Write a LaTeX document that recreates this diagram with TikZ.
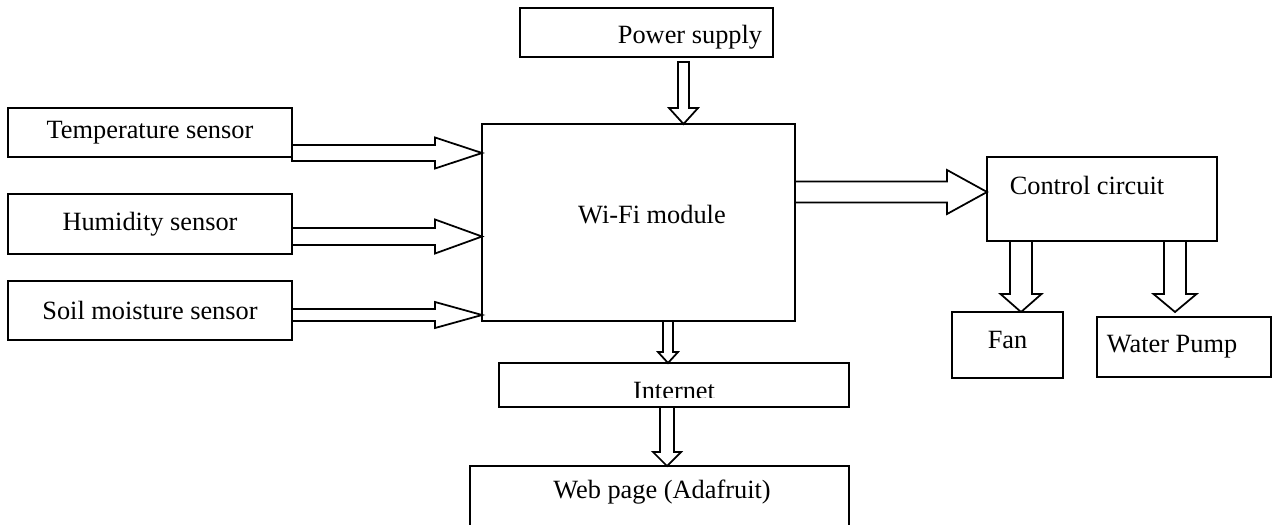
\documentclass[tikz,border=0pt]{standalone}
\usepackage{fontspec}
\setmainfont{Liberation Serif}
\usetikzlibrary{calc}

% block arrow to the right: tail, tip, shaft half width, head half width, head length
\newcommand{\rblock}[5]{%
  \draw[blockarrow] ($(#1)+(0,-#3)$) -- ($(#2)+(-#5,-#3)$) -- ($(#2)+(-#5,-#4)$) -- (#2)
    -- ($(#2)+(-#5,#4)$) -- ($(#2)+(-#5,#3)$) -- ($(#1)+(0,#3)$) -- cycle;}
% block arrow downwards
\newcommand{\dblock}[5]{%
  \draw[blockarrow] ($(#1)+(-#3,0)$) -- ($(#2)+(-#3,-#5)$) -- ($(#2)+(-#4,-#5)$) -- (#2)
    -- ($(#2)+(#4,-#5)$) -- ($(#2)+(#3,-#5)$) -- ($(#1)+(#3,0)$) -- cycle;}

\begin{document}
\begin{tikzpicture}
[x=0.02cm,y=-0.02cm,font=\fontsize{15}{18}\selectfont,
 box/.style={draw,line width=1pt,rectangle,inner sep=0pt,outer sep=0pt},
 blockarrow/.style={draw,line width=1pt,fill=white,line join=miter}]
   \clip (0,0) rectangle (1273,524);
   \node[box,minimum width=5.68cm,minimum height=0.98cm] (temp) at (150,132.5) {Temperature sensor};
   \node[box,minimum width=5.68cm,minimum height=1.2cm] (hum) at (150,224) {Humidity sensor};
   \node[box,minimum width=5.68cm,minimum height=1.18cm] (soil) at (150,310.5) {Soil moisture sensor};
   \node[box,minimum width=5.06cm,minimum height=0.98cm,
     label={[shift={(43.5,4.5)}]center:Power supply}] (power) at (646.5,32.5) {};
   \node[box,minimum width=6.26cm,minimum height=3.94cm,
     label={[shift={(13.5,-7.5)}]center:Wi-Fi module}] (wifi) at (638.5,222.5) {};
   \node[box,minimum width=4.6cm,minimum height=1.68cm,
     label={[shift={(-15,-14)}]center:Control circuit}] (ctrl) at (1102,199) {};
   \node[box,minimum width=2.22cm,minimum height=1.32cm,
     label={[shift={(0,-5)}]center:Fan}] (fan) at (1007.5,345) {};
   \node[box,minimum width=3.48cm,minimum height=1.2cm,
     label={[shift={(-12,0)}]center:Water Pump}] (pump) at (1184,347) {};
   \node[box,minimum width=7cm,minimum height=0.88cm] (internet) at (674,385) {};
   \node[box,minimum width=7.58cm,minimum height=1.6cm,
     label={[shift={(2.5,-14)}]center:Web page (Adafruit)}] (web) at (659.5,506) {};
   \begin{scope}
     \clip (internet.north west) rectangle ($(internet.south east)+(0,-10)$);
     \node[anchor=base,inner sep=0pt] (internet text) at ($(internet.south)+(0,-7.5)$) {Internet};
   \end{scope}

   % sensors to module
   \coordinate (t1) at ($(temp.east)+(0,20.5)$);
   \coordinate (t2) at (wifi.west |- t1);
   \coordinate (h1) at ($(hum.east)+(0,12.5)$);
   \coordinate (h2) at (wifi.west |- h1);
   \coordinate (s1) at ($(soil.east)+(0,4.5)$);
   \coordinate (s2) at (wifi.west |- s1);
   \rblock{t1}{t2}{8}{15.5}{47}
   \rblock{h1}{h2}{8.5}{17}{47}
   \rblock{s1}{s2}{6}{13}{47}

   % module to control circuit
   \coordinate (c1) at ($(wifi.east)+(0,-30.5)$);
   \coordinate (c2) at (ctrl.west |- c1);
   \rblock{c1}{c2}{10.5}{22}{40}

   % power, internet, web page
   \coordinate (p1) at ($(power.south)+(37,5)$);
   \coordinate (p2) at (p1 |- wifi.north);
   \dblock{p1}{p2}{5.5}{14.5}{16}
   \coordinate (i1) at ($(wifi.south)+(29.5,0)$);
   \coordinate (i2) at (i1 |- internet.north);
   \dblock{i1}{i2}{5}{10}{11}
   \coordinate (w1) at ($(internet.south)+(-7,0)$);
   \coordinate (w2) at (w1 |- web.north);
   \dblock{w1}{w2}{7}{14}{14}

   % control circuit to loads
   \coordinate (f1) at ($(ctrl.south)+(-81,0)$);
   \coordinate (f2) at (f1 |- fan.north);
   \dblock{f1}{f2}{11}{20.5}{18}
   \coordinate (m1) at ($(ctrl.south)+(73,0)$);
   \coordinate (m2) at ($(m1 |- pump.north)+(0,-5)$);
   \dblock{m1}{m2}{11}{21.5}{18}
\end{tikzpicture}
\end{document}
